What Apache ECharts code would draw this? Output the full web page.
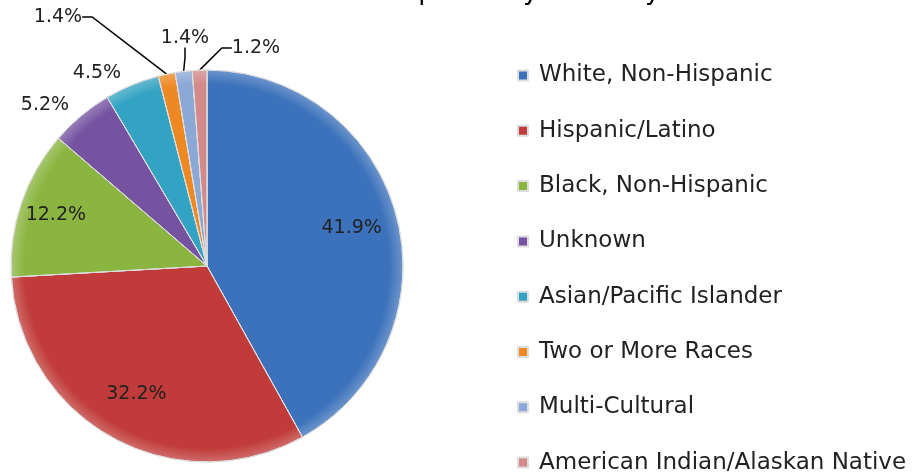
<!DOCTYPE html>
<html>
<head>
<meta charset="utf-8">
<script src="https://cdn.jsdelivr.net/npm/echarts@6/dist/echarts.min.js"></script>
<style>
  html, body { margin: 0; padding: 0; background: #fff; }
  #chart { width: 920px; height: 475px; }
</style>
</head>
<body>
<div id="chart"></div>
<script>
// ethnicity groups and their share of pell grant recipients (%)
var groups = ['White, Non-Hispanic', 'Hispanic/Latino', 'Black, Non-Hispanic', 'Unknown',
    'Asian/Pacific Islander', 'Two or More Races', 'Multi-Cultural', 'American Indian/Alaskan Native'];
var shares = [41.9, 32.2, 12.2, 5.2, 4.5, 1.4, 1.4, 1.2];
var colors = ['#3c72bb', '#c03b39', '#8ab540', '#7653a1', '#33a3c3', '#ee8822', '#8ca8d6', '#d48a8a'];

var font = 'DejaVu Sans';
var cx = 207, cy = 266, rad = 196;

// where the small-slice labels sit (label centre)
var outerLabelPos = {
    3: [45, 105],
    4: [97, 73],
    5: [58, 17],
    6: [185, 38],
    7: [256, 48]
};
// how far out the inside labels are pushed
var innerPush = { 0: 1.48, 1: 1.45, 2: 1.58 };

var chart = echarts.init(document.getElementById('chart'));

var data = groups.map(function (g, i) {
    var item = {
        name: g,
        value: shares[i],
        itemStyle: {
            color: {
                type: 'radial', x: cx, y: cy, r: rad, global: true,
                colorStops: [
                    { offset: 0, color: colors[i] },
                    { offset: 0.93, color: colors[i] },
                    { offset: 1, color: echarts.color.lift(colors[i], 0.25) }
                ]
            }
        }
    };
    if (i < 3) {
        item.label = { position: 'inside' };
        item.labelLine = { show: false };
    }
    if (i === 3 || i === 4) {
        item.labelLine = { show: false };
    }
    return item;
});

chart.setOption({
    title: {
        text: 'Fall 2013 Pell Grant Recipients by Ethnicity',
        left: 98,
        top: -26,
        textStyle: { fontFamily: font, fontSize: 26, fontWeight: 'normal', color: '#000' }
    },
    legend: {
        orient: 'vertical',
        left: 517,
        top: 64,
        padding: 0,
        itemWidth: 10,
        itemHeight: 10,
        itemGap: 32.3,
        icon: 'rect',
        textStyle: { fontFamily: font, fontSize: 23, color: '#222', padding: [0, 0, 0, 6] },
        data: groups.map(function (g, i) {
            return { name: g, itemStyle: { color: colors[i] } };
        })
    },
    series: [{
        type: 'pie',
        center: [cx, cy],
        radius: rad,
        startAngle: 90,
        clockwise: true,
        avoidLabelOverlap: false,
        itemStyle: { borderColor: '#dddddd', borderWidth: 1 },
        label: {
            formatter: '{c}%',
            fontFamily: font,
            fontSize: 19,
            color: '#222'
        },
        labelLine: { length: 12, length2: 10, lineStyle: { color: '#000', width: 1.5 } },
        labelLayout: function (p) {
            var i = p.dataIndex;
            if (outerLabelPos[i]) {
                return { x: outerLabelPos[i][0], y: outerLabelPos[i][1], align: 'center', verticalAlign: 'middle' };
            }
            // push the inside labels out toward the rim
            var k = innerPush[i];
            var mx = p.labelRect.x + p.labelRect.width / 2;
            var my = p.labelRect.y + p.labelRect.height / 2;
            return {
                x: cx + (mx - cx) * k, y: cy + (my - cy) * k,
                align: 'center', verticalAlign: 'middle'
            };
        },
        emphasis: { disabled: true },
        data: data
    }]
});
</script>
</body>
</html>
